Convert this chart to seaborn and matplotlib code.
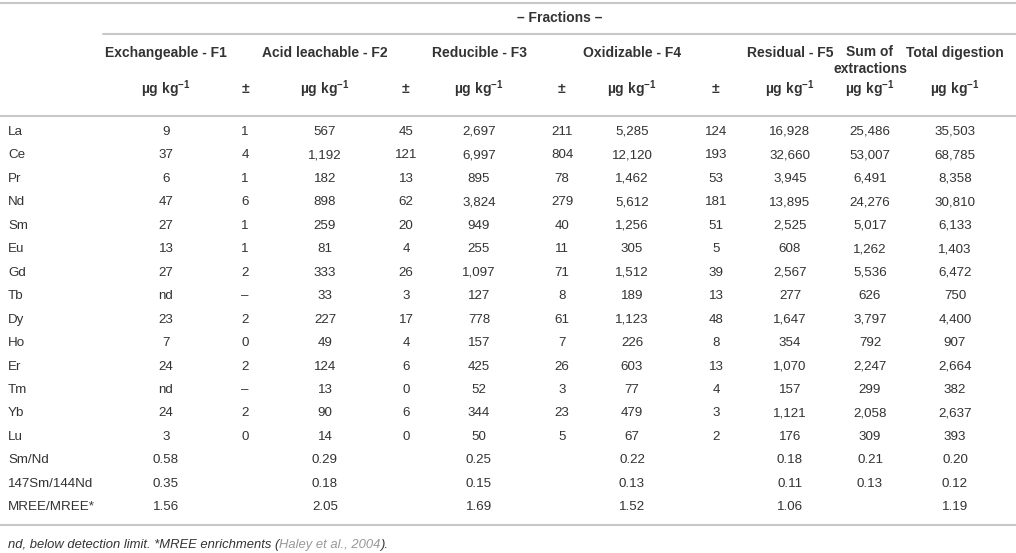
import numpy as np
import pandas as pd
import matplotlib
matplotlib.use("Agg")
import matplotlib.pyplot as plt
import seaborn as sns

# table contents
elements = ["La", "Ce", "Pr", "Nd", "Sm", "Eu", "Gd", "Tb", "Dy", "Ho", "Er", "Tm", "Yb", "Lu",
            "Sm/Nd", "147Sm/144Nd", "MREE/MREE*"]
f1 = ["9", "37", "6", "47", "27", "13", "27", "nd", "23", "7", "24", "nd", "24", "3", "0.58", "0.35", "1.56"]
f1_sd = ["1", "4", "1", "6", "1", "1", "2", "–", "2", "0", "2", "–", "2", "0", "", "", ""]
f2 = ["567", "1,192", "182", "898", "259", "81", "333", "33", "227", "49", "124", "13", "90", "14",
      "0.29", "0.18", "2.05"]
f2_sd = ["45", "121", "13", "62", "20", "4", "26", "3", "17", "4", "6", "0", "6", "0", "", "", ""]
f3 = ["2,697", "6,997", "895", "3,824", "949", "255", "1,097", "127", "778", "157", "425", "52", "344", "50",
      "0.25", "0.15", "1.69"]
f3_sd = ["211", "804", "78", "279", "40", "11", "71", "8", "61", "7", "26", "3", "23", "5", "", "", ""]
f4 = ["5,285", "12,120", "1,462", "5,612", "1,256", "305", "1,512", "189", "1,123", "226", "603", "77", "479", "67",
      "0.22", "0.13", "1.52"]
f4_sd = ["124", "193", "53", "181", "51", "5", "39", "13", "48", "8", "13", "4", "3", "2", "", "", ""]
f5 = ["16,928", "32,660", "3,945", "13,895", "2,525", "608", "2,567", "277", "1,647", "354", "1,070", "157",
      "1,121", "176", "0.18", "0.11", "1.06"]
sum_extr = ["25,486", "53,007", "6,491", "24,276", "5,017", "1,262", "5,536", "626", "3,797", "792", "2,247",
            "299", "2,058", "309", "0.21", "0.13", ""]
total = ["35,503", "68,785", "8,358", "30,810", "6,133", "1,403", "6,472", "750", "4,400", "907", "2,664",
         "382", "2,637", "393", "0.20", "0.12", "1.19"]

group_titles = ["Exchangeable - F1", "", "Acid leachable - F2", "", "Reducible - F3", "", "Oxidizable - F4", "",
                "Residual - F5", "Sum of\nextractions", "Total digestion"]
unit_labels = ["µg kg$^{-1}$", "±", "µg kg$^{-1}$", "±", "µg kg$^{-1}$", "±", "µg kg$^{-1}$", "±",
               "µg kg$^{-1}$", "µg kg$^{-1}$", "µg kg$^{-1}$"]

df = pd.DataFrame({"F1": f1, "F1sd": f1_sd, "F2": f2, "F2sd": f2_sd, "F3": f3, "F3sd": f3_sd,
                   "F4": f4, "F4sd": f4_sd, "F5": f5, "Sum": sum_extr, "Total": total}, index=elements)

sns.set_style("white")
plt.rcParams["font.family"] = ["Liberation Sans", "DejaVu Sans"]
plt.rcParams["mathtext.fontset"] = "custom"
plt.rcParams["mathtext.rm"] = "Liberation Sans:bold"
plt.rcParams["mathtext.bf"] = "Liberation Sans:bold"
plt.rcParams["mathtext.default"] = "rm"

txt = "#333333"
rule = "#c8c8c8"
fs_head = 10
fs = 9.6

fig = plt.figure(figsize=(10.16, 5.53), dpi=100)
ax = fig.add_axes([0, 0, 1, 1])
ax.set_xlim(0, 1016)
ax.set_ylim(553, 0)
ax.axis("off")

col_x = [166, 245, 325, 406, 479, 562, 632, 716, 790, 870, 955]
y_first, dy = 132, 23.45

# rules
ax.axhline(3, color=rule, lw=1.5)
ax.plot([103, 1016], [34, 34], color=rule, lw=1.5)
ax.axhline(116, color=rule, lw=1.5)
ax.axhline(525, color=rule, lw=1.5)

ax.text(560, 18, "– Fractions –", ha="center", va="center", fontsize=fs_head, fontweight="bold", color=txt)
for x, t in zip(col_x, group_titles):
    if t:
        two = "\n" in t
        ax.text(x, 45 if two else 53, t, ha="center", va="top" if two else "center", fontsize=fs_head,
                fontweight="bold", color=txt, linespacing=1.3)
for x, t in zip(col_x, unit_labels):
    ax.text(x, 89, t, ha="center", va="center", fontsize=fs_head, fontweight="bold", color=txt)

for i, el in enumerate(df.index):
    y = y_first + i * dy
    ax.text(8, y, el, ha="left", va="center", fontsize=fs, color=txt)
    for x, val in zip(col_x, df.loc[el].values):
        if val:
            ax.text(x, y, val, ha="center", va="center", fontsize=fs, color=txt)

fn = 9.4
t1 = ax.text(8, 545, "nd, below detection limit. *MREE enrichments (", ha="left", va="center",
             fontsize=fn, style="italic", color=txt)
fig.canvas.draw()
bb = t1.get_window_extent()
x2 = ax.transData.inverted().transform((bb.x1, 0))[0]
t2 = ax.text(x2, 545, "Haley et al., 2004", ha="left", va="center", fontsize=fn,
             style="italic", color="#999999")
fig.canvas.draw()
bb = t2.get_window_extent()
x3 = ax.transData.inverted().transform((bb.x1, 0))[0]
ax.text(x3, 545, ").", ha="left", va="center", fontsize=fn, style="italic", color=txt)

fig.savefig("out.png", dpi=100)
